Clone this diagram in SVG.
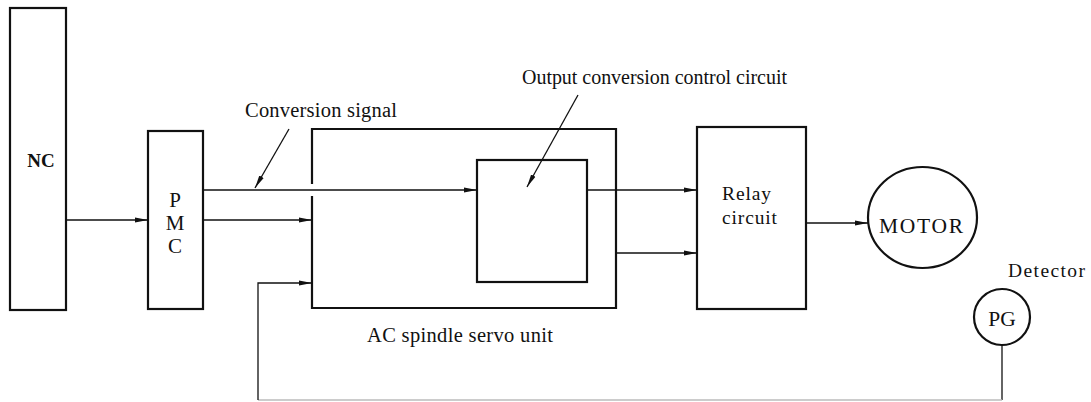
<svg xmlns="http://www.w3.org/2000/svg" width="1091" height="402" viewBox="0 0 1091 402">
<defs>
<marker id="ah" viewBox="0 0 13 6" refX="13" refY="3" markerWidth="13" markerHeight="6" markerUnits="userSpaceOnUse" orient="auto">
<path d="M0,0.5 L13,3 L0,5.5 Z" fill="#111"/>
</marker>
</defs>
<style>
.box{fill:none;stroke:#111;stroke-width:2.2}
.ln{fill:none;stroke:#111;stroke-width:1.3}
.t{font-family:"Liberation Serif","Times New Roman",serif;fill:#111}
</style>
<rect width="1091" height="402" fill="#fff"/>
<g id="nc">
<rect class="box" x="10" y="8" width="56" height="302"/>
<text class="t" x="41" y="167" font-size="19" font-weight="bold" text-anchor="middle">NC</text>
</g>
<g id="pmc">
<rect class="box" x="148" y="131" width="55" height="178"/>
<text class="t" x="175" y="207" font-size="21" text-anchor="middle">P</text>
<text class="t" x="175" y="230" font-size="21" text-anchor="middle">M</text>
<text class="t" x="175" y="253" font-size="21" text-anchor="middle">C</text>
</g>
<g id="ac-unit">
<path class="box" d="M312,184 L312,129 L616,129 L616,308 L312,308 L312,196"/>
<text class="t" x="367" y="342" font-size="20.5" textLength="186" lengthAdjust="spacing">AC spindle servo unit</text>
</g>
<g id="output-conversion">
<rect class="box" x="477" y="160" width="110" height="122"/>
<text class="t" x="522" y="84" font-size="20" textLength="265" lengthAdjust="spacing">Output conversion control circuit</text>
</g>
<g id="relay">
<rect class="box" x="697" y="127" width="109" height="182"/>
<text class="t" x="722" y="200" font-size="19.5" textLength="49" lengthAdjust="spacing">Relay</text>
<text class="t" x="722" y="224" font-size="19.5" textLength="55" lengthAdjust="spacing">circuit</text>
</g>
<g id="motor">
<ellipse class="box" cx="922.5" cy="217.5" rx="54.5" ry="50.5"/>
<text class="t" x="879" y="233" font-size="21.5" textLength="84" lengthAdjust="spacing">MOTOR</text>
</g>
<g id="pg">
<circle class="box" cx="1002" cy="317" r="28"/>
<text class="t" x="1002" y="326" font-size="21.5" text-anchor="middle">PG</text>
<text class="t" x="1008" y="277" font-size="19.5" textLength="77" lengthAdjust="spacing">Detector</text>
</g>
<g id="labels">
<text class="t" x="245" y="117" font-size="20.5" textLength="152" lengthAdjust="spacing">Conversion signal</text>
</g>
<g id="connectors">
<line class="ln" x1="66" y1="220" x2="148" y2="220" marker-end="url(#ah)"/>
<line class="ln" x1="203" y1="190" x2="477" y2="190" marker-end="url(#ah)"/>
<line class="ln" x1="203" y1="220" x2="312" y2="220" marker-end="url(#ah)"/>
<polyline class="ln" points="1002,345 1002,400" />
<line x1="1002" y1="400" x2="258" y2="400" stroke="#bbb" stroke-width="1.3"/>
<polyline class="ln" points="258,400 258,283 312,283" marker-end="url(#ah)"/>
<line class="ln" x1="587" y1="190" x2="697" y2="190" marker-end="url(#ah)"/>
<line class="ln" x1="616" y1="253" x2="697" y2="253" marker-end="url(#ah)"/>
<line class="ln" x1="806" y1="223" x2="868" y2="223" marker-end="url(#ah)"/>
<line class="ln" x1="289" y1="129" x2="255" y2="188" marker-end="url(#ah)"/>
<line class="ln" x1="578" y1="95" x2="527" y2="187" marker-end="url(#ah)"/>
</g>
</svg>
